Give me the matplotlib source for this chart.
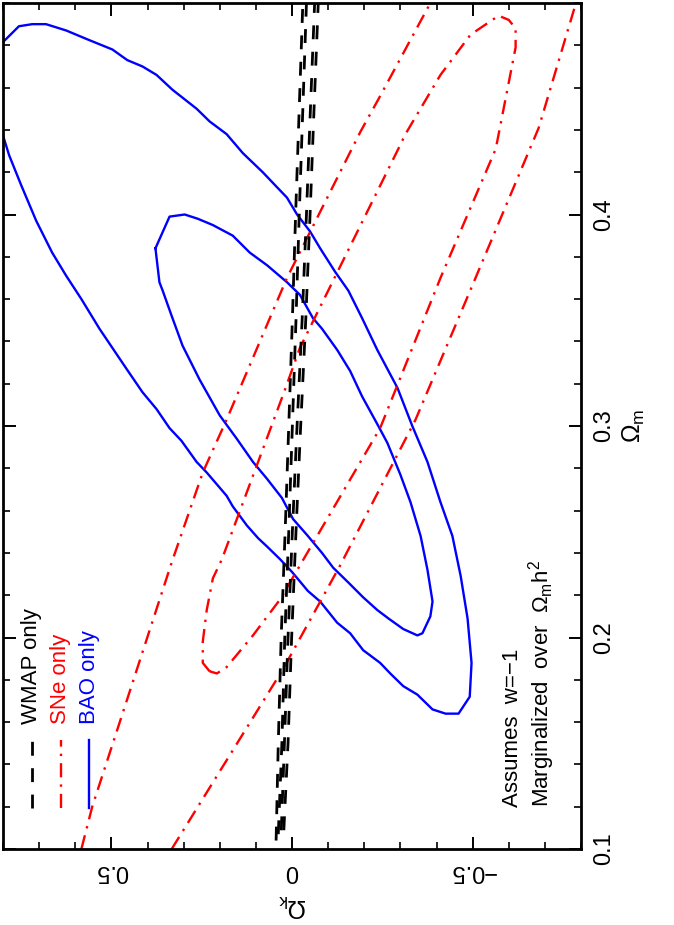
"""Omega_m vs Omega_k constraints from WMAP, SNe and BAO (portrait, rotated layout)."""

import matplotlib
matplotlib.use("Agg")
import matplotlib.pyplot as plt
from matplotlib.ticker import MultipleLocator

plt.rcParams["font.family"] = ["Liberation Sans", "DejaVu Sans"]
plt.rcParams["mathtext.fontset"] = "custom"
plt.rcParams["mathtext.rm"] = "Liberation Sans"
plt.rcParams["mathtext.it"] = "Liberation Sans:italic"

# --- data (Omega_k, Omega_m) ---
BAO_OUTER_OK = [0.84, 0.803, 0.756, 0.719, 0.681, 0.625, 0.569, 0.497, 0.456, 0.414,
                0.375, 0.331, 0.264, 0.228, 0.181, 0.136, 0.081, 0.042, 0.014, -0.014,
                -0.05, -0.078, -0.119, -0.156, -0.194, -0.236, -0.292, -0.333, -0.375, -0.411,
                -0.444, -0.467, -0.486, -0.497, -0.492, -0.461, -0.425, -0.389, -0.347, -0.308,
                -0.272, -0.244, -0.197, -0.161, -0.125, -0.078, -0.044, 0.0, 0.033, 0.069,
                0.094, 0.125, 0.164, 0.181, 0.236, 0.264, 0.306, 0.339, 0.375, 0.414,
                0.458, 0.533, 0.583, 0.625, 0.664, 0.708, 0.75, 0.783, 0.803, 0.84]
BAO_OUTER_OM = [0.46, 0.481, 0.489, 0.490, 0.490, 0.487, 0.483, 0.478, 0.473, 0.470,
                0.466, 0.459, 0.450, 0.444, 0.438, 0.429, 0.420, 0.413, 0.408, 0.400,
                0.392, 0.384, 0.373, 0.364, 0.351, 0.336, 0.318, 0.300, 0.283, 0.264,
                0.248, 0.229, 0.209, 0.188, 0.172, 0.164, 0.164, 0.166, 0.173, 0.177,
                0.183, 0.188, 0.194, 0.202, 0.207, 0.217, 0.222, 0.231, 0.237, 0.243,
                0.247, 0.253, 0.262, 0.267, 0.278, 0.283, 0.293, 0.299, 0.308, 0.316,
                0.327, 0.346, 0.360, 0.371, 0.382, 0.397, 0.414, 0.428, 0.439, 0.46]

BAO_INNER_OK = [0.378, 0.339, 0.297, 0.261, 0.219, 0.164, 0.117, 0.069, 0.014, -0.022,
                -0.058, -0.083, -0.125, -0.161, -0.194, -0.239, -0.264, -0.3, -0.328, -0.356,
                -0.375, -0.389, -0.383, -0.361, -0.347, -0.308, -0.267, -0.236, -0.197, -0.156,
                -0.114, -0.083, -0.044, -0.003, 0.028, 0.069, 0.108, 0.153, 0.2, 0.256,
                0.303, 0.333, 0.358, 0.367, 0.378]
BAO_INNER_OM = [0.384, 0.399, 0.400, 0.398, 0.395, 0.390, 0.382, 0.376, 0.368, 0.362,
                0.351, 0.346, 0.336, 0.326, 0.314, 0.300, 0.292, 0.277, 0.264, 0.248,
                0.232, 0.217, 0.210, 0.202, 0.201, 0.204, 0.209, 0.213, 0.219, 0.226,
                0.233, 0.240, 0.248, 0.256, 0.266, 0.275, 0.283, 0.294, 0.305, 0.322,
                0.338, 0.352, 0.364, 0.368, 0.384]

SNE_INNER_OK = [0.228, 0.247, 0.247, 0.236, 0.219, 0.194, 0.022, -0.022, -0.3, -0.314,
                -0.411, -0.494, -0.572, -0.6, -0.619, -0.619, -0.564, -0.411, -0.244, 0.033,
                0.108, 0.181, 0.208, 0.228]
SNE_INNER_OM = [0.184, 0.188, 0.198, 0.213, 0.228, 0.237, 0.316, 0.337, 0.433, 0.438,
                0.466, 0.485, 0.494, 0.492, 0.488, 0.479, 0.431, 0.370, 0.299, 0.218,
                0.201, 0.186, 0.183, 0.184]

# outer SNe contour runs off the plot: two branches
SNE_OUTER_LEFT_OK = [0.583, 0.553, 0.333, 0.247, 0.181, 0.014, -0.189, -0.244, -0.383]
SNE_OUTER_LEFT_OM = [0.1, 0.12, 0.2355, 0.278, 0.303, 0.370, 0.439, 0.456, 0.5]
SNE_OUTER_RIGHT_OK = [0.333, 0.025, -0.133, -0.342, -0.508, -0.683, -0.786]
SNE_OUTER_RIGHT_OM = [0.1, 0.185, 0.234, 0.303, 0.370, 0.441, 0.5]

# WMAP: thin band, two nested contours
WMAP_OM = [0.104, 0.15, 0.2, 0.25, 0.3, 0.35, 0.4, 0.45, 0.51]
WMAP_OUTER_LEFT = [0.044, 0.038, 0.030, 0.019, 0.009, -0.001, -0.010, -0.020, -0.032]
WMAP_OUTER_RIGHT = [0.024, 0.011, 0.001, -0.011, -0.024, -0.038, -0.050, -0.061, -0.075]
WMAP_INNER_OM = [0.107, 0.15, 0.2, 0.25, 0.3, 0.35, 0.4, 0.45, 0.51]
WMAP_INNER_LEFT = [0.038, 0.028, 0.020, 0.009, -0.001, -0.011, -0.020, -0.030, -0.042]
WMAP_INNER_RIGHT = [0.030, 0.021, 0.011, -0.001, -0.014, -0.028, -0.040, -0.051, -0.065]

XTICKS = [0.5, 0.0, -0.5]
XTICK_LABELS = ["0.5", "0", "\u22120.5"]
YTICKS = [0.1, 0.2, 0.3, 0.4]
YTICK_LABELS = ["0.1", "0.2", "0.3", "0.4"]

RED = "#ff0000"
BLUE = "#0000ff"
SNE_STYLE = (0, (6, 3, 1, 3))
WMAP_STYLE = (0, (5, 4.5))
TICK_FS = 17
TEXT_FS = 16
LABEL_FS = 18


def closed_band(om, left, right):
    """Left edge upward, right edge back down."""
    return left + right[::-1], om + om[::-1]


fig = plt.figure(figsize=(6.74, 9.25), dpi=100)
ax = fig.add_axes([3 / 674, 76 / 925, 578 / 674, 846 / 925])

# BAO
ax.plot(BAO_OUTER_OK, BAO_OUTER_OM, color=BLUE, lw=1.7)
ax.plot(BAO_INNER_OK, BAO_INNER_OM, color=BLUE, lw=1.7)

# SNe
ax.plot(SNE_INNER_OK, SNE_INNER_OM, color=RED, lw=1.7, ls=SNE_STYLE)
ax.plot(SNE_OUTER_LEFT_OK, SNE_OUTER_LEFT_OM, color=RED, lw=1.7, ls=SNE_STYLE)
ax.plot(SNE_OUTER_RIGHT_OK, SNE_OUTER_RIGHT_OM, color=RED, lw=1.7, ls=SNE_STYLE)

# WMAP
ok, om = closed_band(WMAP_OM, WMAP_OUTER_LEFT, WMAP_OUTER_RIGHT)
ax.plot(ok, om, color="black", lw=2, ls=WMAP_STYLE)
ok, om = closed_band(WMAP_INNER_OM, WMAP_INNER_LEFT, WMAP_INNER_RIGHT)
ax.plot(ok, om, color="black", lw=2, ls=WMAP_STYLE)

ax.set_xlim(0.8, -0.8)
ax.set_ylim(0.1, 0.5)

ax.set_xticks(XTICKS)
ax.set_xticklabels(XTICK_LABELS, fontsize=TICK_FS, rotation=180)
ax.set_yticks(YTICKS)
ax.set_yticklabels(YTICK_LABELS, fontsize=TICK_FS, rotation=90, va="center")
ax.xaxis.set_minor_locator(MultipleLocator(0.1))
ax.yaxis.set_minor_locator(MultipleLocator(0.02))
ax.tick_params(which="both", direction="in", top=True, bottom=True, left=True, right=True,
               labelleft=False, labelright=True, labelbottom=True)
ax.tick_params(which="major", length=9, width=1.4)
ax.tick_params(which="minor", length=5, width=1.2)
ax.tick_params(axis="y", pad=9)
ax.tick_params(axis="x", pad=8)
for sp in ax.spines.values():
    sp.set_linewidth(2)

ax.set_xlabel(r"$\Omega_{\rm k}$", fontsize=LABEL_FS, rotation=180, va="center")
ax.xaxis.set_label_coords(0.5, -0.066)
ax.yaxis.set_label_position("right")
ax.set_ylabel(r"$\Omega_{\rm m}$", fontsize=LABEL_FS, rotation=90, va="center")
ax.yaxis.set_label_coords(1.092, 0.5)

# legend, drawn by hand so it can be rotated
legend_items = [
    ("WMAP only", "black", WMAP_STYLE, 2.0, 0.050),
    ("SNe only", RED, SNE_STYLE, 1.7, 0.100),
    ("BAO only", BLUE, "-", 1.7, 0.149),
]
for text, color, style, lw, xpos in legend_items:
    ax.plot([xpos, xpos], [0.0485, 0.1288], transform=ax.transAxes,
            color=color, ls=style, lw=lw)
    ax.text(xpos, 0.148, text, transform=ax.transAxes, color=color, fontsize=TEXT_FS,
            rotation=90, ha="center", va="bottom")

ax.text(0.881, 0.0496, "Assumes  w=\u22121", transform=ax.transAxes, fontsize=TEXT_FS,
        rotation=90, ha="center", va="bottom")
ax.text(0.931, 0.0496, r"Marginalized  over  $\Omega_{\rm m}\mathrm{h}^2$",
        transform=ax.transAxes, fontsize=TEXT_FS, rotation=90, ha="center", va="bottom")

fig.savefig("out.png", dpi=100)
